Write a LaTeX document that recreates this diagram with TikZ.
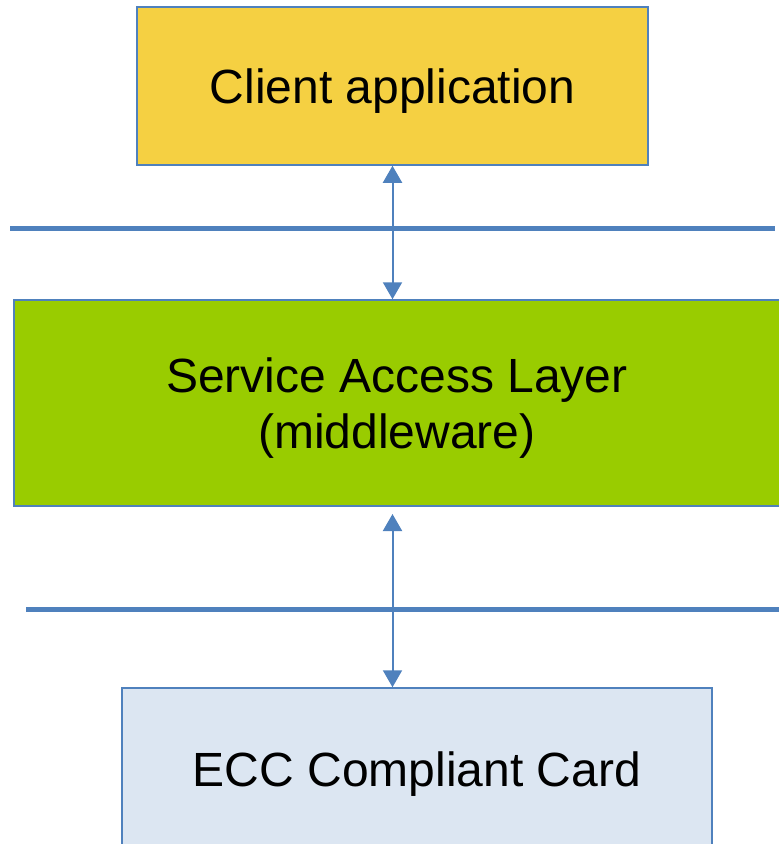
\documentclass[tikz,border=0pt]{standalone}
\usepackage{fontspec}
\setmainfont{Liberation Sans}
\usetikzlibrary{positioning,arrows.meta}
\definecolor{edgeblue}{RGB}{79,129,189}
\definecolor{appyellow}{RGB}{245,208,66}
\definecolor{salgreen}{RGB}{153,204,0}
\definecolor{cardblue}{RGB}{220,230,242}
\tikzset{
    layer/.style={draw=edgeblue, line width=1.5pt, inner sep=0pt, align=center,
        text depth=0pt, font=\fontsize{48}{56}\selectfont},
    sep/.style={draw=edgeblue, line width=5pt},
    link/.style={draw=edgeblue, line width=2pt, {Triangle[width=19pt,length=17pt]}-{Triangle[width=19pt,length=17pt]}}
}
\begin{document}
\begin{tikzpicture}[x=1pt, y=-1pt]
    \useasboundingbox (0,0) rectangle (779,844);
    \node[layer, fill=appyellow, minimum width=511pt, minimum height=158pt] at (392.5,86) (client) {Client application};
    \node[layer, fill=salgreen, minimum width=766pt, minimum height=206pt] at (397,403) (sal) {Service Access Layer\\(middleware)};
    \node[layer, fill=cardblue, minimum width=590pt, minimum height=162pt] at (417,769) (card) {ECC Compliant Card};

    % separators
    \coordinate (s1a) at (10,228.5);
    \coordinate (s1b) at (775,228.5);
    \coordinate (s2a) at (26,609);
    \coordinate (s2b) at (781,609);
    \draw[sep] (s1a) -- (s1b);
    \draw[sep] (s2a) -- (s2b);

    % connectors
    \draw[link] (client.south) -- (client.south |- sal.north);
    \coordinate (t2) at (392.5,514);
    \draw[link] (t2) -- (t2 |- card.north);
\end{tikzpicture}
\end{document}
